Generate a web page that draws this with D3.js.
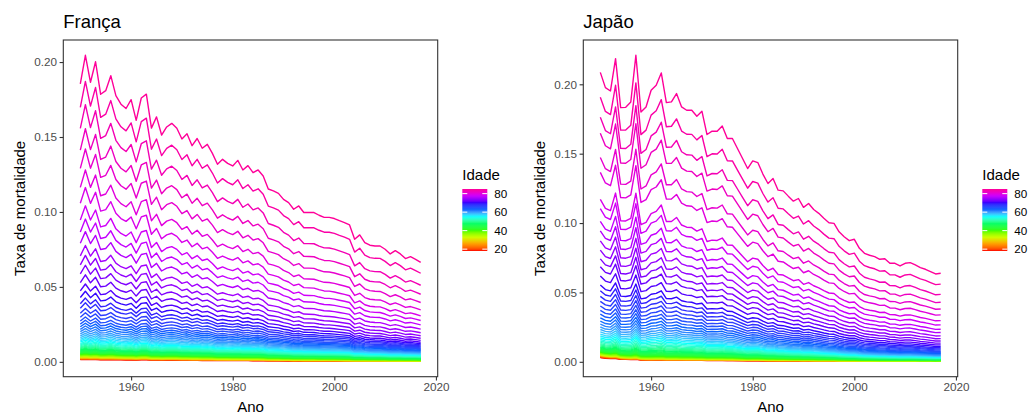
<!DOCTYPE html>
<html><head><meta charset="utf-8">
<script src="https://cdn.jsdelivr.net/npm/d3@7"></script>
<style>
body{margin:0;background:#fff}
svg{display:block}
text{font-family:"Liberation Sans",Arial,Helvetica,sans-serif}
</style>
</head><body>
<svg id="chart" width="1034" height="415"></svg>
<script>
// ---------- data ----------
const years = d3.range(1950, 2018);          // 1950 .. 2017
const ages  = d3.range(18, 86);              // 18 .. 85

// oldest age (85) series, year by year
const franceOldest = [.1855,.2045,.1865,.2002,.1785,.1809,.1909,.1776,.1719,.1690,.1749,.1611,.1760,.1786,.1559,.1634,.1513,.1567,.1591,.1558,.1487,.1522,.1442,.1490,.1425,.1451,
  .1391,.1318,.1351,.1324,.1307,.1344,.1280,.1309,.1262,.1280,.1240,.1153,.1140,.1124,.1084,.1062,.1018,.1040,.0996,.0996,.0996,.0978,.0964,.0964,.0956,.0942,.0929,.0913,
  .0818,.0847,.0796,.0778,.0773,.0773,.0751,.0720,.0742,.0720,.0689,.0702,.0684,.0664];
const japanOldest = [.2086,.1976,.1952,.2185,.1832,.1834,.1873,.2209,.1800,.1837,.1957,.1993,.2082,.1868,.1873,.1933,.1837,.1813,.1813,.1770,.1806,.1638,.1662,.1662,.1700,.1609,
  .1609,.1537,.1465,.1393,.1448,.1436,.1353,.1285,.1321,.1237,.1232,.1194,.1158,.1177,.1113,.1141,.1098,.1070,.1034,.1002,.0998,.0937,.0901,.0873,.0883,.0818,.0782,.0768,
  .0758,.0739,.0743,.0710,.0710,.0691,.0710,.0715,.0698,.0679,.0667,.0650,.0633,.0638];

// rate by age (18..85) at anchor years
const france1950 = [.0015,.0017,.0019,.0020,.0021,.0022,.0023,.0024,.0025,.0026,.0027,.0028,.0030,.0031,.0033,.0035,.0037,.0039,.0041,.0043,.0045,.0048,
  .0051,.0054,.0057,.0060,.0064,.0068,.0072,.0077,.0082,.0088,.0094,.0100,.0107,.0114,.0122,.0131,.0140,.0150,.0161,.0173,.0186,.0201,.0217,.0234,.0252,.0272,
  .0298,.0324,.0358,.0387,.0429,.0473,.0529,.0587,.0647,.0707,.0791,.0867,.0947,.1058,.1164,.1291,.1413,.1558,.1698,.1855];
const france2017 = [.0003,.0004,.0004,.0004,.0004,.0005,.0005,.0005,.0005,.0006,.0006,.0006,.0007,.0007,.0008,.0008,.0009,.0009,.0010,.0011,.0012,.0013,
  .0014,.0015,.0016,.0018,.0019,.0021,.0023,.0025,.0027,.0029,.0031,.0034,.0036,.0039,.0042,.0045,.0048,.0051,.0055,.0059,.0063,.0067,.0072,.0077,.0082,.0087,
  .0093,.0099,.0106,.0113,.0121,.0131,.0143,.0157,.0174,.0194,.0218,.0247,.0276,.0307,.0347,.0396,.0451,.0511,.0591,.0664];
const japan1950 = [.0030,.0033,.0036,.0038,.0040,.0041,.0043,.0044,.0045,.0046,.0047,.0048,.0049,.0050,.0052,.0054,.0056,.0058,.0060,.0062,.0065,.0068,
  .0071,.0074,.0078,.0082,.0086,.0091,.0096,.0102,.0108,.0115,.0123,.0131,.0140,.0150,.0161,.0173,.0186,.0200,.0216,.0233,.0251,.0271,.0293,.0317,.0343,.0371,
  .0402,.0436,.0472,.0512,.0553,.0618,.0685,.0742,.0805,.0872,.0943,.1013,.1104,.1171,.1365,.1473,.1648,.1762,.1906,.2086];
const japan1960 = [.0012,.0013,.0014,.0015,.0015,.0016,.0016,.0017,.0018,.0019,.0020,.0021,.0022,.0023,.0024,.0025,.0026,.0028,.0030,.0032,.0034,.0037,
  .0040,.0044,.0048,.0052,.0057,.0062,.0068,.0075,.0082,.0090,.0098,.0107,.0117,.0128,.0139,.0151,.0163,.0175,.0189,.0204,.0220,.0238,.0257,.0278,.0301,.0326,
  .0353,.0383,.0415,.0450,.0487,.0543,.0602,.0655,.0713,.0776,.0844,.0912,.0999,.1068,.1241,.1347,.1509,.1628,.1778,.1957];
const japan2017 = [.0003,.0003,.0003,.0003,.0004,.0004,.0004,.0004,.0004,.0005,.0005,.0005,.0005,.0006,.0006,.0006,.0007,.0007,.0008,.0008,.0009,.0009,
  .0010,.0011,.0012,.0013,.0014,.0015,.0017,.0018,.0019,.0021,.0023,.0025,.0027,.0029,.0031,.0033,.0036,.0039,.0042,.0045,.0049,.0053,.0057,.0062,.0067,.0073,
  .0079,.0086,.0093,.0101,.0111,.0122,.0135,.0150,.0167,.0187,.0211,.0235,.0266,.0297,.0338,.0381,.0429,.0486,.0560,.0638];

const xTickValues = [1960, 1980, 2000, 2020];
const yTickValues = [0, 0.05, 0.10, 0.15, 0.20];
const legendTicks = [20, 40, 60, 80];
const rainbow10 = ["#FF0000","#FF9900","#CCFF00","#33FF00","#00FF66","#00FFFF","#0066FF","#3300FF","#CC00FF","#FF0099"];

// ---------- build series: each age follows the oldest-age year pattern,
// scaled by its rate relative to the oldest age at the anchor years ----------
function buildSeries(oldest, anchors) {
  return ages.map((age, i) => {
    const pts = anchors.map(a => {
      const j = years.indexOf(a.year);
      return { j, r: a.values[i] / oldest[j] };
    });
    return { age, values: years.map((yr, j) => {
      let k = 0;
      while (k < pts.length - 2 && j > pts[k + 1].j) k++;
      const p0 = pts[k], p1 = pts[k + 1];
      const t = (j - p0.j) / (p1.j - p0.j);
      return { year: yr, v: oldest[j] * Math.pow(p0.r, 1 - t) * Math.pow(p1.r, t) };
    })};
  });
}

const colour = d3.scaleSequential(d3.piecewise(d3.interpolateLab, rainbow10)).domain([d3.min(ages), d3.max(ages)]);
const svg = d3.select("#chart");
const defs = svg.append("defs");

function panel(ox, title, series, id) {
  const L = ox + 63.3, R = ox + 437.7, T = 40, B = 376.7;
  const xr = d3.extent(years), xe = (xr[1] - xr[0]) * 0.05;
  const all = series.flatMap(s => s.values.map(d => d.v));
  const yr = d3.extent(all), ye = (yr[1] - yr[0]) * 0.05;
  const x = d3.scaleLinear().domain([xr[0] - xe, xr[1] + xe]).range([L, R]);
  const y = d3.scaleLinear().domain([yr[0] - ye, yr[1] + ye]).range([B, T]);
  const g = svg.append("g");

  defs.append("clipPath").attr("id", "clip" + id).append("rect")
    .attr("x", L).attr("y", T).attr("width", R - L).attr("height", B - T);

  const line = d3.line().x(d => x(d.year)).y(d => y(d.v));
  g.append("g").attr("clip-path", `url(#clip${id})`)
    .selectAll("path").data(series).join("path")
    .attr("d", s => line(s.values))
    .attr("fill", "none")
    .attr("stroke", s => colour(s.age))
    .attr("stroke-width", 1.4)
    .attr("stroke-linejoin", "round");

  g.append("rect").attr("x", L).attr("y", T).attr("width", R - L).attr("height", B - T)
    .attr("fill", "none").attr("stroke", "#333333").attr("stroke-width", 1.1);

  const ax = g.append("g").attr("transform", `translate(0,${B})`)
    .call(d3.axisBottom(x).tickValues(xTickValues).tickFormat(d3.format("d")).tickSize(3.7).tickPadding(2.5));
  const ay = g.append("g").attr("transform", `translate(${L},0)`)
    .call(d3.axisLeft(y).tickValues(yTickValues).tickFormat(d3.format(".2f")).tickSize(3.7).tickPadding(2.5));
  [ax, ay].forEach(a => {
    a.select(".domain").remove();
    a.selectAll(".tick line").attr("stroke", "#333333").attr("stroke-width", 1.1);
    a.selectAll(".tick text").attr("fill", "#4D4D4D").style("font-size", "11.7px")
      .style("font-family", '"Liberation Sans",Arial,sans-serif');
  });

  g.append("text").attr("x", L).attr("y", 28.3).text(title)
    .style("font-size", "18.5px").attr("fill", "#000");
  g.append("text").attr("x", (L + R) / 2).attr("y", 411.5).attr("text-anchor", "middle")
    .text("Ano").style("font-size", "15px").attr("fill", "#000");
  g.append("text").attr("transform", `translate(${ox + 25},${(T + B) / 2}) rotate(-90)`)
    .attr("text-anchor", "middle").text("Taxa de mortalidade").style("font-size", "15px").attr("fill", "#000");

  // legend (colour bar)
  const lx = ox + 462.3, lw = 25, lTop = 189, lBot = 251;
  const ls = d3.scaleLinear().domain(d3.extent(ages)).range([lBot, lTop]);
  const grad = defs.append("linearGradient").attr("id", "grad" + id)
    .attr("x1", 0).attr("y1", 1).attr("x2", 0).attr("y2", 0);
  d3.range(0, 1.0001, 0.02).forEach(t => {
    grad.append("stop").attr("offset", t)
      .attr("stop-color", colour(ages[0] + t * (ages[ages.length - 1] - ages[0])));
  });
  g.append("text").attr("x", lx).attr("y", 180).text("Idade").style("font-size", "15px").attr("fill", "#000");
  g.append("rect").attr("x", lx).attr("y", lTop).attr("width", lw).attr("height", lBot - lTop)
    .attr("fill", `url(#grad${id})`);
  legendTicks.forEach(a => {
    const yy = ls(a);
    g.append("line").attr("x1", lx).attr("x2", lx + 5).attr("y1", yy).attr("y2", yy)
      .attr("stroke", "#fff").attr("stroke-width", 1);
    g.append("line").attr("x1", lx + lw - 5).attr("x2", lx + lw).attr("y1", yy).attr("y2", yy)
      .attr("stroke", "#fff").attr("stroke-width", 1);
    g.append("text").attr("x", lx + lw + 7).attr("y", yy).attr("dy", "0.35em")
      .text(a).style("font-size", "11.7px").attr("fill", "#000");
  });
}

panel(0, "França", buildSeries(franceOldest, [
  { year: 1950, values: france1950 },
  { year: 2017, values: france2017 }
]), "fr");
panel(520, "Japão", buildSeries(japanOldest, [
  { year: 1950, values: japan1950 },
  { year: 1960, values: japan1960 },
  { year: 2017, values: japan2017 }
]), "jp");
</script>
</body></html>
